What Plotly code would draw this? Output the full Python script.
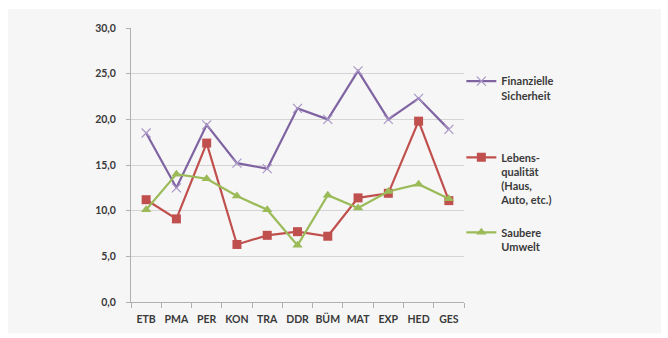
import plotly.graph_objects as go

categories = ["ETB", "PMA", "PER", "KON", "TRA", "DDR", "BÜM", "MAT", "EXP", "HED", "GES"]
finanzielle_sicherheit = [18.5, 12.5, 19.4, 15.2, 14.6, 21.2, 20.0, 25.3, 20.0, 22.3, 18.9]
lebensqualitaet = [11.2, 9.1, 17.4, 6.3, 7.3, 7.7, 7.2, 11.4, 11.9, 19.8, 11.1]
saubere_umwelt = [10.1, 14.0, 13.5, 11.6, 10.1, 6.2, 11.7, 10.3, 12.1, 12.9, 11.3]
y_ticks = [0, 5, 10, 15, 20, 25, 30]
y_tick_labels = ["0,0", "5,0", "10,0", "15,0", "20,0", "25,0", "30,0"]

PURPLE = "#8064A2"
RED = "#C0504D"
GREEN = "#9BBB59"
TEXT = "#3a3a3a"
FONT = "Lato"

fig = go.Figure()

fig.add_trace(go.Scatter(
    x=categories, y=finanzielle_sicherheit, mode="lines+markers",
    name="Finanzielle<br>Sicherheit", legend="legend",
    line=dict(color=PURPLE, width=2.2),
    marker=dict(symbol="x-thin", size=9, line=dict(color="#a996c6", width=1.2)),
))
fig.add_trace(go.Scatter(
    x=categories, y=lebensqualitaet, mode="lines+markers",
    name="Lebens-<br>qualität<br>(Haus,<br>Auto, etc.)", legend="legend2",
    line=dict(color=RED, width=2.2),
    marker=dict(symbol="square", size=9, color=RED),
))
fig.add_trace(go.Scatter(
    x=categories, y=saubere_umwelt, mode="lines+markers",
    name="Saubere<br>Umwelt", legend="legend3",
    line=dict(color=GREEN, width=2.2),
    marker=dict(symbol="triangle-up", size=9, color=GREEN),
))

legend_common = dict(
    x=0.992, xanchor="left", yanchor="top",
    bgcolor="rgba(0,0,0,0)", valign="top", itemwidth=30,
    font=dict(family=FONT, size=11, color=TEXT, weight="bold"),
    tracegroupgap=0,
)

fig.update_layout(
    width=668, height=338,
    margin=dict(l=131, r=204, t=28, b=36),
    paper_bgcolor="white",
    plot_bgcolor="rgba(0,0,0,0)",
    font=dict(family=FONT, size=10, color=TEXT, weight="bold"),
    showlegend=True,
    legend=dict(y=0.856, **legend_common),
    legend2=dict(y=0.578, **legend_common),
    legend3=dict(y=0.304, **legend_common),
    xaxis=dict(
        type="category", range=[-0.5, 10.5], tickangle=0,
        showline=True, linecolor="#b0b0b0", linewidth=1,
        ticks="outside", tickson="boundaries", ticklen=5, tickcolor="#b0b0b0",
        showgrid=False, ticklabelstandoff=7,
        tickfont=dict(family=FONT, size=10.5, color=TEXT, weight="bold"),
    ),
    yaxis=dict(
        range=[0, 30], tickvals=y_ticks, ticktext=y_tick_labels,
        showline=True, linecolor="#b0b0b0", linewidth=1,
        ticks="outside", ticklen=4, tickcolor="#b0b0b0",
        showgrid=True, gridcolor="#d4d4d4", gridwidth=1,
        zeroline=False, ticklabelstandoff=8,
        tickfont=dict(family=FONT, size=10.5, color=TEXT, weight="bold"),
    ),
    shapes=[dict(
        type="rect", xref="paper", yref="paper", layer="below",
        x0=(8 - 131) / 333, x1=(661 - 131) / 333,
        y0=(302.5 - 334) / 274.5, y1=(302.5 - 9) / 274.5,
        fillcolor="#f6f6f6", line=dict(width=0),
    )],
)

fig.write_html("out.html")
